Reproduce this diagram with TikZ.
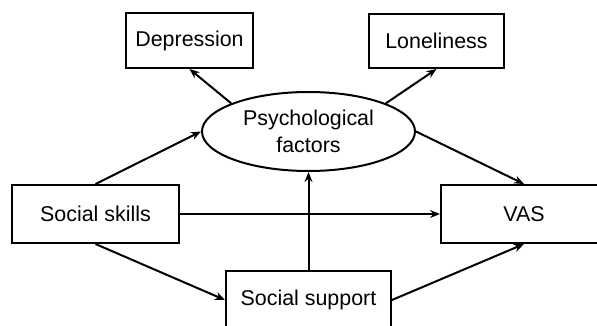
\documentclass[tikz,border=0pt]{standalone}
\usepackage{fontspec}
\setmainfont{Liberation Sans}
\usetikzlibrary{arrows.meta,shapes.geometric}
\begin{document}
\begin{tikzpicture}[x=1pt,y=-1pt,
  every node/.style={font=\fontsize{21.4}{27}\selectfont, inner sep=0pt},
  box/.style={draw, line width=2pt, rectangle},
  oval/.style={draw, line width=2pt, ellipse, align=center},
  conn/.style={line width=2pt, -{Stealth[length=10pt,width=8pt]}}]
\useasboundingbox (0,0) rectangle (597,326);
\clip (0,0) rectangle (597,326);
\fill[white] (0,0) rectangle (597,326);
\node[box, minimum width=127pt, minimum height=55pt] (dep) at (189.5,40.5) {Depression};
\node[box, minimum width=135pt, minimum height=54pt] (lon) at (436.5,41) {Loneliness};
\node[oval, minimum width=213pt, minimum height=79pt] (psy) at (308.5,131.5) {Psychological\\factors};
\node[box, minimum width=167pt, minimum height=58pt] (ss) at (95.5,214) {Social skills};
\node[box, minimum width=166pt, minimum height=58pt] (vas) at (524,214) {VAS};
\node[box, minimum width=165pt, minimum height=58pt] (sup) at (308.5,300) {Social support};
\draw[conn] (psy.160) -- (dep.south);
\draw[conn] (psy.20) -- (lon.south);
\draw[conn] (ss.north) -- (psy.west);
\draw[conn] (psy.east) -- (vas.north);
\draw[conn] (ss.east) -- (vas.west);
\draw[conn] (sup.north) -- (psy.south);
\draw[conn] (ss.south) -- (sup.west);
\draw[conn] (sup.east) -- (vas.south);
\end{tikzpicture}
\end{document}
